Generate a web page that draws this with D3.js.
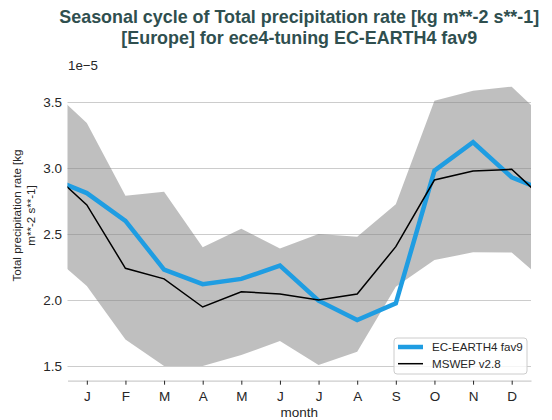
<!DOCTYPE html>
<html>
<head>
<meta charset="utf-8">
<script src="https://cdn.jsdelivr.net/npm/d3@7"></script>
<style>
  body { margin: 0; background: #fff; }
  svg { font-family: "Liberation Sans", Arial, sans-serif; }
  .axis text { fill: #262626; }
</style>
</head>
<body>
<svg id="chart"></svg>
<script>
// monthly values, in units of 1e-5 kg m**-2 s**-1
var months = ['J', 'F', 'M', 'A', 'M', 'J', 'J', 'A', 'S', 'O', 'N', 'D'];
var model = [2.81, 2.60, 2.23, 2.12, 2.16, 2.26, 1.995, 1.848, 1.975, 2.98, 3.195, 2.93];
var mswep = [2.72, 2.24, 2.16, 1.947, 2.063, 2.045, 2.0, 2.045, 2.404, 2.909, 2.977, 2.99];
var bandHigh = [3.34, 2.79, 2.82, 2.40, 2.54, 2.39, 2.50, 2.48, 2.725, 3.51, 3.586, 3.616];
var bandLow = [2.106, 1.70, 1.50, 1.50, 1.583, 1.69, 1.507, 1.608, 2.10, 2.303, 2.361, 2.36];
var yTicks = [1.5, 2.0, 2.5, 3.0, 3.5];

var render = (selector, size) => {
  var margin = size.margin;
  var width = size.width - margin.left - margin.right;
  var height = size.height - margin.top - margin.bottom;

  var x = d3.scaleLinear()
    .domain([0.5, 12.5])
    .range([0, width]);

  var y = d3.scaleLinear()
    .domain([1.3886, 3.722])
    .range([height, 0]);

  // the cycle wraps: Dec before Jan and Jan after Dec, clipped at the edges
  var wrap = arr => [arr[11]].concat(arr, [arr[0]]);
  var idx = d3.range(0, 14);

  var svg = d3.select(selector)
    .attr('width', size.width)
    .attr('height', size.height);

  svg.append('defs').append('clipPath')
    .attr('id', 'plot-clip')
    .append('rect')
    .attr('width', width)
    .attr('height', height);

  var chart = svg.append('g')
    .attr('transform', `translate(${ margin.left }, ${ margin.top })`);

  // horizontal grid + y labels
  var yAxis = d3.axisLeft(y)
    .tickValues(yTicks)
    .tickFormat(d3.format('.1f'))
    .tickSize(-width)
    .tickPadding(5.5);

  var gy = chart.append('g')
    .attr('class', 'axis y')
    .call(yAxis);
  gy.select('.domain').remove();
  gy.selectAll('line').attr('stroke', '#cccccc').attr('stroke-width', 1);
  gy.selectAll('text').attr('font-size', '13.5px');

  var plot = chart.append('g').attr('clip-path', 'url(#plot-clip)');

  var hi = wrap(bandHigh);
  var lo = wrap(bandLow);
  var area = d3.area()
    .x(i => x(i))
    .y0(i => y(lo[i]))
    .y1(i => y(hi[i]));

  plot.append('path')
    .datum(idx)
    .attr('d', area)
    .attr('fill', '#808080')
    .attr('fill-opacity', 0.5);

  var line = arr => d3.line()
    .x(i => x(i))
    .y(i => y(arr[i]));

  var m = wrap(model);
  plot.append('path')
    .datum(idx)
    .attr('d', line(m))
    .attr('fill', 'none')
    .attr('stroke', '#1f9de2')
    .attr('stroke-width', 4.5)
    .attr('stroke-linejoin', 'miter');

  var o = wrap(mswep);
  plot.append('path')
    .datum(idx)
    .attr('d', line(o))
    .attr('fill', 'none')
    .attr('stroke', '#000')
    .attr('stroke-width', 1.5);

  // x axis
  var xAxis = d3.axisBottom(x)
    .tickValues(d3.range(1, 13))
    .tickFormat(d => months[d - 1])
    .tickSize(4)
    .tickSizeOuter(0)
    .tickPadding(7);

  var gx = chart.append('g')
    .attr('class', 'axis x')
    .attr('transform', `translate(0, ${ height })`)
    .call(xAxis);
  gx.select('.domain').attr('stroke', '#cccccc').attr('stroke-width', 1.25);
  gx.selectAll('line').attr('stroke', '#262626');
  gx.selectAll('text').attr('font-size', '13.5px');

  chart.append('text')
    .attr('x', width / 2)
    .attr('y', height + 36.7)
    .attr('text-anchor', 'middle')
    .attr('font-size', '13.5px')
    .attr('fill', '#262626')
    .text('month');

  // offset text
  chart.append('text')
    .attr('x', 0.5)
    .attr('y', -2.7)
    .attr('font-size', '13.3px')
    .attr('fill', '#262626')
    .text('1e\u22125');

  // y label, two lines
  var ylab = svg.append('text')
    .attr('transform', 'translate(21, 215.5) rotate(-90)')
    .attr('text-anchor', 'middle')
    .attr('font-size', '11.6px')
    .attr('fill', '#262626');
  ylab.append('tspan').attr('x', 0).attr('y', 0).text('Total precipitation rate [kg');
  ylab.append('tspan').attr('x', 0).attr('y', 14).text('m**-2 s**-1]');

  // title
  var title = svg.append('text')
    .attr('text-anchor', 'middle')
    .attr('font-size', '17.9px')
    .attr('font-weight', 'bold')
    .attr('fill', '#2f4f4f');
  title.append('tspan').attr('x', margin.left + width / 2).attr('y', 22.5)
    .text('Seasonal cycle of Total precipitation rate [kg m**-2 s**-1]');
  title.append('tspan').attr('x', margin.left + width / 2).attr('y', 43.5)
    .text('[Europe] for ece4-tuning EC-EARTH4 fav9');

  // legend
  var legend = svg.append('g').attr('transform', 'translate(394, 338)');
  legend.append('rect')
    .attr('width', 133)
    .attr('height', 36)
    .attr('rx', 3)
    .attr('fill', '#fff')
    .attr('fill-opacity', 0.8)
    .attr('stroke', '#cccccc');

  var entries = [
    { name: 'EC-EARTH4 fav9', color: '#1f9de2', w: 4.5 },
    { name: 'MSWEP v2.8', color: '#000', w: 1.5 }
  ];
  var row = legend.selectAll('.entry')
    .data(entries)
    .enter().append('g')
      .attr('class', 'entry')
      .attr('transform', (d, i) => `translate(0, ${ 9 + i * 16.7 })`);
  row.append('line')
    .attr('x1', 4).attr('x2', 29)
    .attr('stroke', d => d.color)
    .attr('stroke-width', d => d.w);
  row.append('text')
    .attr('x', 38)
    .attr('y', 4.3)
    .attr('font-size', '11.6px')
    .attr('fill', '#262626')
    .text(d => d.name);
};

render('#chart', {
  width: 552,
  height: 420,
  margin: { top: 72.7, right: 21, bottom: 39.3, left: 67.5 }
});
</script>
</body>
</html>
